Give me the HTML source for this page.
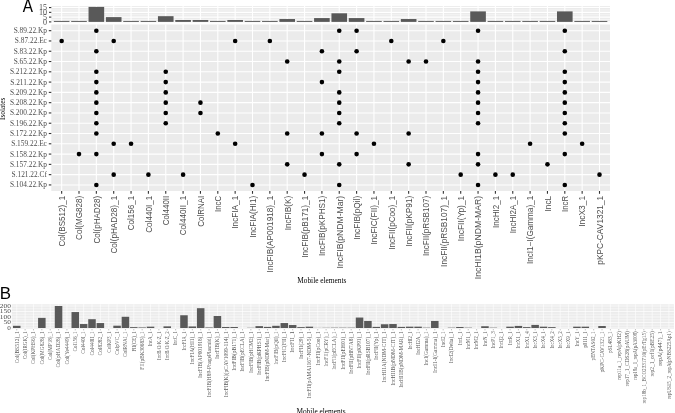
<!DOCTYPE html>
<html><head><meta charset="utf-8"><title>Figure</title>
<style>
html,body{margin:0;padding:0;background:#fff;width:675px;height:413px;overflow:hidden}
svg{display:block;filter:grayscale(1)}
.sr{font-family:"Liberation Serif",serif;font-size:7.35px;fill:#4D4D4D}
.sr8{font-family:"Liberation Serif",serif;font-size:8px;fill:#4D4D4D}
.sa{font-family:"Liberation Sans",sans-serif;font-size:8.3px;fill:#4D4D4D}
.bsr{font-family:"Liberation Serif",serif;font-size:6.8px;fill:#4D4D4D}
.bsl{font-family:"Liberation Serif",serif;font-size:5.5px;fill:#5c5c5c}
.tagA{font-family:"Liberation Sans",sans-serif;font-size:15.3px;fill:#000}
.tagB{font-family:"Liberation Sans",sans-serif;font-size:16.9px;fill:#000}
.tt{font-family:"Liberation Serif",serif;font-size:7.35px;fill:#000}
</style></head><body>
<svg width="675" height="413" viewBox="0 0 675 413" shape-rendering="auto">
<rect x="51.3" y="6.1" width="558.7" height="16.35" fill="#EBEBEB"/>
<line x1="51.3" x2="610" y1="19.51" y2="19.51" stroke="#ffffff" stroke-width="0.45"/>
<line x1="51.3" x2="610" y1="14.74" y2="14.74" stroke="#ffffff" stroke-width="0.45"/>
<line x1="51.3" x2="610" y1="9.96" y2="9.96" stroke="#ffffff" stroke-width="0.45"/>
<line x1="51.3" x2="610" y1="21.9" y2="21.9" stroke="#ffffff" stroke-width="1.1"/>
<line x1="51.3" x2="610" y1="17.12" y2="17.12" stroke="#ffffff" stroke-width="1.1"/>
<line x1="51.3" x2="610" y1="12.35" y2="12.35" stroke="#ffffff" stroke-width="1.1"/>
<line x1="51.3" x2="610" y1="7.57" y2="7.57" stroke="#ffffff" stroke-width="1.1"/>
<line x1="61.65" x2="61.65" y1="6.1" y2="22.45" stroke="#ffffff" stroke-width="1.1"/>
<line x1="79" x2="79" y1="6.1" y2="22.45" stroke="#ffffff" stroke-width="1.1"/>
<line x1="96.35" x2="96.35" y1="6.1" y2="22.45" stroke="#ffffff" stroke-width="1.1"/>
<line x1="113.7" x2="113.7" y1="6.1" y2="22.45" stroke="#ffffff" stroke-width="1.1"/>
<line x1="131.05" x2="131.05" y1="6.1" y2="22.45" stroke="#ffffff" stroke-width="1.1"/>
<line x1="148.4" x2="148.4" y1="6.1" y2="22.45" stroke="#ffffff" stroke-width="1.1"/>
<line x1="165.75" x2="165.75" y1="6.1" y2="22.45" stroke="#ffffff" stroke-width="1.1"/>
<line x1="183.1" x2="183.1" y1="6.1" y2="22.45" stroke="#ffffff" stroke-width="1.1"/>
<line x1="200.45" x2="200.45" y1="6.1" y2="22.45" stroke="#ffffff" stroke-width="1.1"/>
<line x1="217.8" x2="217.8" y1="6.1" y2="22.45" stroke="#ffffff" stroke-width="1.1"/>
<line x1="235.15" x2="235.15" y1="6.1" y2="22.45" stroke="#ffffff" stroke-width="1.1"/>
<line x1="252.5" x2="252.5" y1="6.1" y2="22.45" stroke="#ffffff" stroke-width="1.1"/>
<line x1="269.85" x2="269.85" y1="6.1" y2="22.45" stroke="#ffffff" stroke-width="1.1"/>
<line x1="287.2" x2="287.2" y1="6.1" y2="22.45" stroke="#ffffff" stroke-width="1.1"/>
<line x1="304.55" x2="304.55" y1="6.1" y2="22.45" stroke="#ffffff" stroke-width="1.1"/>
<line x1="321.9" x2="321.9" y1="6.1" y2="22.45" stroke="#ffffff" stroke-width="1.1"/>
<line x1="339.25" x2="339.25" y1="6.1" y2="22.45" stroke="#ffffff" stroke-width="1.1"/>
<line x1="356.6" x2="356.6" y1="6.1" y2="22.45" stroke="#ffffff" stroke-width="1.1"/>
<line x1="373.95" x2="373.95" y1="6.1" y2="22.45" stroke="#ffffff" stroke-width="1.1"/>
<line x1="391.3" x2="391.3" y1="6.1" y2="22.45" stroke="#ffffff" stroke-width="1.1"/>
<line x1="408.65" x2="408.65" y1="6.1" y2="22.45" stroke="#ffffff" stroke-width="1.1"/>
<line x1="426" x2="426" y1="6.1" y2="22.45" stroke="#ffffff" stroke-width="1.1"/>
<line x1="443.35" x2="443.35" y1="6.1" y2="22.45" stroke="#ffffff" stroke-width="1.1"/>
<line x1="460.7" x2="460.7" y1="6.1" y2="22.45" stroke="#ffffff" stroke-width="1.1"/>
<line x1="478.05" x2="478.05" y1="6.1" y2="22.45" stroke="#ffffff" stroke-width="1.1"/>
<line x1="495.4" x2="495.4" y1="6.1" y2="22.45" stroke="#ffffff" stroke-width="1.1"/>
<line x1="512.75" x2="512.75" y1="6.1" y2="22.45" stroke="#ffffff" stroke-width="1.1"/>
<line x1="530.1" x2="530.1" y1="6.1" y2="22.45" stroke="#ffffff" stroke-width="1.1"/>
<line x1="547.45" x2="547.45" y1="6.1" y2="22.45" stroke="#ffffff" stroke-width="1.1"/>
<line x1="564.8" x2="564.8" y1="6.1" y2="22.45" stroke="#ffffff" stroke-width="1.1"/>
<line x1="582.15" x2="582.15" y1="6.1" y2="22.45" stroke="#ffffff" stroke-width="1.1"/>
<line x1="599.5" x2="599.5" y1="6.1" y2="22.45" stroke="#ffffff" stroke-width="1.1"/>
<rect x="53.84" y="20.95" width="15.62" height="0.95" fill="#595959"/>
<rect x="71.19" y="20.95" width="15.62" height="0.95" fill="#595959"/>
<rect x="88.54" y="6.91" width="15.62" height="14.99" fill="#595959"/>
<rect x="105.89" y="17.12" width="15.62" height="4.77" fill="#595959"/>
<rect x="123.24" y="20.95" width="15.62" height="0.95" fill="#595959"/>
<rect x="140.59" y="20.95" width="15.62" height="0.95" fill="#595959"/>
<rect x="157.94" y="16.17" width="15.62" height="5.73" fill="#595959"/>
<rect x="175.29" y="19.99" width="15.62" height="1.91" fill="#595959"/>
<rect x="192.64" y="19.99" width="15.62" height="1.91" fill="#595959"/>
<rect x="209.99" y="20.95" width="15.62" height="0.95" fill="#595959"/>
<rect x="227.34" y="19.99" width="15.62" height="1.91" fill="#595959"/>
<rect x="244.69" y="20.95" width="15.62" height="0.95" fill="#595959"/>
<rect x="262.04" y="20.95" width="15.62" height="0.95" fill="#595959"/>
<rect x="279.39" y="19.04" width="15.62" height="2.86" fill="#595959"/>
<rect x="296.74" y="20.95" width="15.62" height="0.95" fill="#595959"/>
<rect x="314.09" y="18.08" width="15.62" height="3.82" fill="#595959"/>
<rect x="331.44" y="13.3" width="15.62" height="8.59" fill="#595959"/>
<rect x="348.79" y="18.08" width="15.62" height="3.82" fill="#595959"/>
<rect x="366.14" y="20.95" width="15.62" height="0.95" fill="#595959"/>
<rect x="383.49" y="20.95" width="15.62" height="0.95" fill="#595959"/>
<rect x="400.84" y="19.04" width="15.62" height="2.86" fill="#595959"/>
<rect x="418.19" y="20.95" width="15.62" height="0.95" fill="#595959"/>
<rect x="435.54" y="20.95" width="15.62" height="0.95" fill="#595959"/>
<rect x="452.89" y="20.95" width="15.62" height="0.95" fill="#595959"/>
<rect x="470.24" y="11.39" width="15.62" height="10.5" fill="#595959"/>
<rect x="487.59" y="20.95" width="15.62" height="0.95" fill="#595959"/>
<rect x="504.94" y="20.95" width="15.62" height="0.95" fill="#595959"/>
<rect x="522.29" y="20.95" width="15.62" height="0.95" fill="#595959"/>
<rect x="539.64" y="20.95" width="15.62" height="0.95" fill="#595959"/>
<rect x="556.99" y="11.39" width="15.62" height="10.5" fill="#595959"/>
<rect x="574.34" y="20.95" width="15.62" height="0.95" fill="#595959"/>
<rect x="591.69" y="20.95" width="15.62" height="0.95" fill="#595959"/>
<line x1="49" x2="51.3" y1="21.9" y2="21.9" stroke="#333333" stroke-width="1.1"/>
<text x="46.9" y="24.6" class="sr8" text-anchor="end">0</text>
<line x1="49" x2="51.3" y1="17.12" y2="17.12" stroke="#333333" stroke-width="1.1"/>
<text x="46.9" y="19.82" class="sr8" text-anchor="end">5</text>
<line x1="49" x2="51.3" y1="12.35" y2="12.35" stroke="#333333" stroke-width="1.1"/>
<text x="46.9" y="15.05" class="sr8" text-anchor="end">10</text>
<line x1="49" x2="51.3" y1="7.57" y2="7.57" stroke="#333333" stroke-width="1.1"/>
<text x="46.9" y="10.27" class="sr8" text-anchor="end">15</text>
<rect x="51.3" y="24.5" width="558.7" height="166.5" fill="#EBEBEB"/>
<line x1="51.3" x2="610" y1="30.68" y2="30.68" stroke="#ffffff" stroke-width="1.1"/>
<line x1="51.3" x2="610" y1="40.96" y2="40.96" stroke="#ffffff" stroke-width="1.1"/>
<line x1="51.3" x2="610" y1="51.25" y2="51.25" stroke="#ffffff" stroke-width="1.1"/>
<line x1="51.3" x2="610" y1="61.53" y2="61.53" stroke="#ffffff" stroke-width="1.1"/>
<line x1="51.3" x2="610" y1="71.81" y2="71.81" stroke="#ffffff" stroke-width="1.1"/>
<line x1="51.3" x2="610" y1="82.09" y2="82.09" stroke="#ffffff" stroke-width="1.1"/>
<line x1="51.3" x2="610" y1="92.38" y2="92.38" stroke="#ffffff" stroke-width="1.1"/>
<line x1="51.3" x2="610" y1="102.66" y2="102.66" stroke="#ffffff" stroke-width="1.1"/>
<line x1="51.3" x2="610" y1="112.94" y2="112.94" stroke="#ffffff" stroke-width="1.1"/>
<line x1="51.3" x2="610" y1="123.23" y2="123.23" stroke="#ffffff" stroke-width="1.1"/>
<line x1="51.3" x2="610" y1="133.51" y2="133.51" stroke="#ffffff" stroke-width="1.1"/>
<line x1="51.3" x2="610" y1="143.79" y2="143.79" stroke="#ffffff" stroke-width="1.1"/>
<line x1="51.3" x2="610" y1="154.08" y2="154.08" stroke="#ffffff" stroke-width="1.1"/>
<line x1="51.3" x2="610" y1="164.36" y2="164.36" stroke="#ffffff" stroke-width="1.1"/>
<line x1="51.3" x2="610" y1="174.64" y2="174.64" stroke="#ffffff" stroke-width="1.1"/>
<line x1="51.3" x2="610" y1="184.93" y2="184.93" stroke="#ffffff" stroke-width="1.1"/>
<line x1="61.65" x2="61.65" y1="24.5" y2="191" stroke="#ffffff" stroke-width="1.1"/>
<line x1="79" x2="79" y1="24.5" y2="191" stroke="#ffffff" stroke-width="1.1"/>
<line x1="96.35" x2="96.35" y1="24.5" y2="191" stroke="#ffffff" stroke-width="1.1"/>
<line x1="113.7" x2="113.7" y1="24.5" y2="191" stroke="#ffffff" stroke-width="1.1"/>
<line x1="131.05" x2="131.05" y1="24.5" y2="191" stroke="#ffffff" stroke-width="1.1"/>
<line x1="148.4" x2="148.4" y1="24.5" y2="191" stroke="#ffffff" stroke-width="1.1"/>
<line x1="165.75" x2="165.75" y1="24.5" y2="191" stroke="#ffffff" stroke-width="1.1"/>
<line x1="183.1" x2="183.1" y1="24.5" y2="191" stroke="#ffffff" stroke-width="1.1"/>
<line x1="200.45" x2="200.45" y1="24.5" y2="191" stroke="#ffffff" stroke-width="1.1"/>
<line x1="217.8" x2="217.8" y1="24.5" y2="191" stroke="#ffffff" stroke-width="1.1"/>
<line x1="235.15" x2="235.15" y1="24.5" y2="191" stroke="#ffffff" stroke-width="1.1"/>
<line x1="252.5" x2="252.5" y1="24.5" y2="191" stroke="#ffffff" stroke-width="1.1"/>
<line x1="269.85" x2="269.85" y1="24.5" y2="191" stroke="#ffffff" stroke-width="1.1"/>
<line x1="287.2" x2="287.2" y1="24.5" y2="191" stroke="#ffffff" stroke-width="1.1"/>
<line x1="304.55" x2="304.55" y1="24.5" y2="191" stroke="#ffffff" stroke-width="1.1"/>
<line x1="321.9" x2="321.9" y1="24.5" y2="191" stroke="#ffffff" stroke-width="1.1"/>
<line x1="339.25" x2="339.25" y1="24.5" y2="191" stroke="#ffffff" stroke-width="1.1"/>
<line x1="356.6" x2="356.6" y1="24.5" y2="191" stroke="#ffffff" stroke-width="1.1"/>
<line x1="373.95" x2="373.95" y1="24.5" y2="191" stroke="#ffffff" stroke-width="1.1"/>
<line x1="391.3" x2="391.3" y1="24.5" y2="191" stroke="#ffffff" stroke-width="1.1"/>
<line x1="408.65" x2="408.65" y1="24.5" y2="191" stroke="#ffffff" stroke-width="1.1"/>
<line x1="426" x2="426" y1="24.5" y2="191" stroke="#ffffff" stroke-width="1.1"/>
<line x1="443.35" x2="443.35" y1="24.5" y2="191" stroke="#ffffff" stroke-width="1.1"/>
<line x1="460.7" x2="460.7" y1="24.5" y2="191" stroke="#ffffff" stroke-width="1.1"/>
<line x1="478.05" x2="478.05" y1="24.5" y2="191" stroke="#ffffff" stroke-width="1.1"/>
<line x1="495.4" x2="495.4" y1="24.5" y2="191" stroke="#ffffff" stroke-width="1.1"/>
<line x1="512.75" x2="512.75" y1="24.5" y2="191" stroke="#ffffff" stroke-width="1.1"/>
<line x1="530.1" x2="530.1" y1="24.5" y2="191" stroke="#ffffff" stroke-width="1.1"/>
<line x1="547.45" x2="547.45" y1="24.5" y2="191" stroke="#ffffff" stroke-width="1.1"/>
<line x1="564.8" x2="564.8" y1="24.5" y2="191" stroke="#ffffff" stroke-width="1.1"/>
<line x1="582.15" x2="582.15" y1="24.5" y2="191" stroke="#ffffff" stroke-width="1.1"/>
<line x1="599.5" x2="599.5" y1="24.5" y2="191" stroke="#ffffff" stroke-width="1.1"/>
<circle cx="96.35" cy="30.68" r="2.3" fill="#000"/>
<circle cx="339.25" cy="30.68" r="2.3" fill="#000"/>
<circle cx="356.6" cy="30.68" r="2.3" fill="#000"/>
<circle cx="478.05" cy="30.68" r="2.3" fill="#000"/>
<circle cx="564.8" cy="30.68" r="2.3" fill="#000"/>
<circle cx="61.65" cy="40.96" r="2.3" fill="#000"/>
<circle cx="113.7" cy="40.96" r="2.3" fill="#000"/>
<circle cx="235.15" cy="40.96" r="2.3" fill="#000"/>
<circle cx="269.85" cy="40.96" r="2.3" fill="#000"/>
<circle cx="391.3" cy="40.96" r="2.3" fill="#000"/>
<circle cx="443.35" cy="40.96" r="2.3" fill="#000"/>
<circle cx="96.35" cy="51.25" r="2.3" fill="#000"/>
<circle cx="321.9" cy="51.25" r="2.3" fill="#000"/>
<circle cx="356.6" cy="51.25" r="2.3" fill="#000"/>
<circle cx="564.8" cy="51.25" r="2.3" fill="#000"/>
<circle cx="287.2" cy="61.53" r="2.3" fill="#000"/>
<circle cx="339.25" cy="61.53" r="2.3" fill="#000"/>
<circle cx="408.65" cy="61.53" r="2.3" fill="#000"/>
<circle cx="426" cy="61.53" r="2.3" fill="#000"/>
<circle cx="478.05" cy="61.53" r="2.3" fill="#000"/>
<circle cx="96.35" cy="71.81" r="2.3" fill="#000"/>
<circle cx="165.75" cy="71.81" r="2.3" fill="#000"/>
<circle cx="339.25" cy="71.81" r="2.3" fill="#000"/>
<circle cx="478.05" cy="71.81" r="2.3" fill="#000"/>
<circle cx="564.8" cy="71.81" r="2.3" fill="#000"/>
<circle cx="96.35" cy="82.09" r="2.3" fill="#000"/>
<circle cx="165.75" cy="82.09" r="2.3" fill="#000"/>
<circle cx="321.9" cy="82.09" r="2.3" fill="#000"/>
<circle cx="478.05" cy="82.09" r="2.3" fill="#000"/>
<circle cx="564.8" cy="82.09" r="2.3" fill="#000"/>
<circle cx="96.35" cy="92.38" r="2.3" fill="#000"/>
<circle cx="165.75" cy="92.38" r="2.3" fill="#000"/>
<circle cx="339.25" cy="92.38" r="2.3" fill="#000"/>
<circle cx="478.05" cy="92.38" r="2.3" fill="#000"/>
<circle cx="564.8" cy="92.38" r="2.3" fill="#000"/>
<circle cx="96.35" cy="102.66" r="2.3" fill="#000"/>
<circle cx="165.75" cy="102.66" r="2.3" fill="#000"/>
<circle cx="200.45" cy="102.66" r="2.3" fill="#000"/>
<circle cx="339.25" cy="102.66" r="2.3" fill="#000"/>
<circle cx="478.05" cy="102.66" r="2.3" fill="#000"/>
<circle cx="564.8" cy="102.66" r="2.3" fill="#000"/>
<circle cx="96.35" cy="112.94" r="2.3" fill="#000"/>
<circle cx="165.75" cy="112.94" r="2.3" fill="#000"/>
<circle cx="200.45" cy="112.94" r="2.3" fill="#000"/>
<circle cx="339.25" cy="112.94" r="2.3" fill="#000"/>
<circle cx="478.05" cy="112.94" r="2.3" fill="#000"/>
<circle cx="564.8" cy="112.94" r="2.3" fill="#000"/>
<circle cx="96.35" cy="123.23" r="2.3" fill="#000"/>
<circle cx="165.75" cy="123.23" r="2.3" fill="#000"/>
<circle cx="339.25" cy="123.23" r="2.3" fill="#000"/>
<circle cx="478.05" cy="123.23" r="2.3" fill="#000"/>
<circle cx="564.8" cy="123.23" r="2.3" fill="#000"/>
<circle cx="96.35" cy="133.51" r="2.3" fill="#000"/>
<circle cx="217.8" cy="133.51" r="2.3" fill="#000"/>
<circle cx="287.2" cy="133.51" r="2.3" fill="#000"/>
<circle cx="321.9" cy="133.51" r="2.3" fill="#000"/>
<circle cx="356.6" cy="133.51" r="2.3" fill="#000"/>
<circle cx="408.65" cy="133.51" r="2.3" fill="#000"/>
<circle cx="564.8" cy="133.51" r="2.3" fill="#000"/>
<circle cx="113.7" cy="143.79" r="2.3" fill="#000"/>
<circle cx="131.05" cy="143.79" r="2.3" fill="#000"/>
<circle cx="235.15" cy="143.79" r="2.3" fill="#000"/>
<circle cx="373.95" cy="143.79" r="2.3" fill="#000"/>
<circle cx="530.1" cy="143.79" r="2.3" fill="#000"/>
<circle cx="582.15" cy="143.79" r="2.3" fill="#000"/>
<circle cx="79" cy="154.08" r="2.3" fill="#000"/>
<circle cx="96.35" cy="154.08" r="2.3" fill="#000"/>
<circle cx="321.9" cy="154.08" r="2.3" fill="#000"/>
<circle cx="356.6" cy="154.08" r="2.3" fill="#000"/>
<circle cx="478.05" cy="154.08" r="2.3" fill="#000"/>
<circle cx="564.8" cy="154.08" r="2.3" fill="#000"/>
<circle cx="287.2" cy="164.36" r="2.3" fill="#000"/>
<circle cx="339.25" cy="164.36" r="2.3" fill="#000"/>
<circle cx="408.65" cy="164.36" r="2.3" fill="#000"/>
<circle cx="478.05" cy="164.36" r="2.3" fill="#000"/>
<circle cx="547.45" cy="164.36" r="2.3" fill="#000"/>
<circle cx="113.7" cy="174.64" r="2.3" fill="#000"/>
<circle cx="148.4" cy="174.64" r="2.3" fill="#000"/>
<circle cx="183.1" cy="174.64" r="2.3" fill="#000"/>
<circle cx="304.55" cy="174.64" r="2.3" fill="#000"/>
<circle cx="460.7" cy="174.64" r="2.3" fill="#000"/>
<circle cx="495.4" cy="174.64" r="2.3" fill="#000"/>
<circle cx="512.75" cy="174.64" r="2.3" fill="#000"/>
<circle cx="599.5" cy="174.64" r="2.3" fill="#000"/>
<circle cx="96.35" cy="184.93" r="2.3" fill="#000"/>
<circle cx="252.5" cy="184.93" r="2.3" fill="#000"/>
<circle cx="339.25" cy="184.93" r="2.3" fill="#000"/>
<circle cx="478.05" cy="184.93" r="2.3" fill="#000"/>
<circle cx="564.8" cy="184.93" r="2.3" fill="#000"/>
<line x1="48.8" x2="51.3" y1="30.68" y2="30.68" stroke="#333333" stroke-width="1.1"/>
<text x="46.9" y="33.18" class="sr" text-anchor="end">S.89.22.Kp</text>
<line x1="48.8" x2="51.3" y1="40.96" y2="40.96" stroke="#333333" stroke-width="1.1"/>
<text x="46.9" y="43.46" class="sr" text-anchor="end">S.87.22.Ec</text>
<line x1="48.8" x2="51.3" y1="51.25" y2="51.25" stroke="#333333" stroke-width="1.1"/>
<text x="46.9" y="53.75" class="sr" text-anchor="end">S.83.22.Kp</text>
<line x1="48.8" x2="51.3" y1="61.53" y2="61.53" stroke="#333333" stroke-width="1.1"/>
<text x="46.9" y="64.03" class="sr" text-anchor="end">S.65.22.Kp</text>
<line x1="48.8" x2="51.3" y1="71.81" y2="71.81" stroke="#333333" stroke-width="1.1"/>
<text x="46.9" y="74.31" class="sr" text-anchor="end">S.212.22.Kp</text>
<line x1="48.8" x2="51.3" y1="82.09" y2="82.09" stroke="#333333" stroke-width="1.1"/>
<text x="46.9" y="84.59" class="sr" text-anchor="end">S.211.22.Kp</text>
<line x1="48.8" x2="51.3" y1="92.38" y2="92.38" stroke="#333333" stroke-width="1.1"/>
<text x="46.9" y="94.88" class="sr" text-anchor="end">S.209.22.Kp</text>
<line x1="48.8" x2="51.3" y1="102.66" y2="102.66" stroke="#333333" stroke-width="1.1"/>
<text x="46.9" y="105.16" class="sr" text-anchor="end">S.208.22.Kp</text>
<line x1="48.8" x2="51.3" y1="112.94" y2="112.94" stroke="#333333" stroke-width="1.1"/>
<text x="46.9" y="115.44" class="sr" text-anchor="end">S.200.22.Kp</text>
<line x1="48.8" x2="51.3" y1="123.23" y2="123.23" stroke="#333333" stroke-width="1.1"/>
<text x="46.9" y="125.73" class="sr" text-anchor="end">S.196.22.Kp</text>
<line x1="48.8" x2="51.3" y1="133.51" y2="133.51" stroke="#333333" stroke-width="1.1"/>
<text x="46.9" y="136.01" class="sr" text-anchor="end">S.172.22.Kp</text>
<line x1="48.8" x2="51.3" y1="143.79" y2="143.79" stroke="#333333" stroke-width="1.1"/>
<text x="46.9" y="146.29" class="sr" text-anchor="end">S.159.22.Ec</text>
<line x1="48.8" x2="51.3" y1="154.08" y2="154.08" stroke="#333333" stroke-width="1.1"/>
<text x="46.9" y="156.58" class="sr" text-anchor="end">S.158.22.Kp</text>
<line x1="48.8" x2="51.3" y1="164.36" y2="164.36" stroke="#333333" stroke-width="1.1"/>
<text x="46.9" y="166.86" class="sr" text-anchor="end">S.157.22.Kp</text>
<line x1="48.8" x2="51.3" y1="174.64" y2="174.64" stroke="#333333" stroke-width="1.1"/>
<text x="46.9" y="177.14" class="sr" text-anchor="end">S.121.22.Cf</text>
<line x1="48.8" x2="51.3" y1="184.93" y2="184.93" stroke="#333333" stroke-width="1.1"/>
<text x="46.9" y="187.43" class="sr" text-anchor="end">S.104.22.Kp</text>
<line x1="61.65" x2="61.65" y1="191" y2="193.8" stroke="#333333" stroke-width="1.1"/>
<text transform="translate(64.95,195.8) rotate(-90)" class="sa" text-anchor="end" textLength="50.67" lengthAdjust="spacingAndGlyphs">Col(BS512)_1</text>
<line x1="79" x2="79" y1="191" y2="193.8" stroke="#333333" stroke-width="1.1"/>
<text transform="translate(82.3,195.8) rotate(-90)" class="sa" text-anchor="end" textLength="44.11" lengthAdjust="spacingAndGlyphs">Col(MG828)</text>
<line x1="96.35" x2="96.35" y1="191" y2="193.8" stroke="#333333" stroke-width="1.1"/>
<text transform="translate(99.65,195.8) rotate(-90)" class="sa" text-anchor="end" textLength="47.63" lengthAdjust="spacingAndGlyphs">Col(pHAD28)</text>
<line x1="113.7" x2="113.7" y1="191" y2="193.8" stroke="#333333" stroke-width="1.1"/>
<text transform="translate(117,195.8) rotate(-90)" class="sa" text-anchor="end" textLength="57.82" lengthAdjust="spacingAndGlyphs">Col(pHAD28)_1</text>
<line x1="131.05" x2="131.05" y1="191" y2="193.8" stroke="#333333" stroke-width="1.1"/>
<text transform="translate(134.35,195.8) rotate(-90)" class="sa" text-anchor="end" textLength="34.47" lengthAdjust="spacingAndGlyphs">Col156_1</text>
<line x1="148.4" x2="148.4" y1="191" y2="193.8" stroke="#333333" stroke-width="1.1"/>
<text transform="translate(151.7,195.8) rotate(-90)" class="sa" text-anchor="end" textLength="37" lengthAdjust="spacingAndGlyphs">Col440I_1</text>
<line x1="165.75" x2="165.75" y1="191" y2="193.8" stroke="#333333" stroke-width="1.1"/>
<text transform="translate(169.05,195.8) rotate(-90)" class="sa" text-anchor="end" textLength="29.54" lengthAdjust="spacingAndGlyphs">Col440II</text>
<line x1="183.1" x2="183.1" y1="191" y2="193.8" stroke="#333333" stroke-width="1.1"/>
<text transform="translate(186.4,195.8) rotate(-90)" class="sa" text-anchor="end" textLength="39.54" lengthAdjust="spacingAndGlyphs">Col440II_1</text>
<line x1="200.45" x2="200.45" y1="191" y2="193.8" stroke="#333333" stroke-width="1.1"/>
<text transform="translate(203.75,195.8) rotate(-90)" class="sa" text-anchor="end" textLength="30.88" lengthAdjust="spacingAndGlyphs">ColRNAI</text>
<line x1="217.8" x2="217.8" y1="191" y2="193.8" stroke="#333333" stroke-width="1.1"/>
<text transform="translate(221.1,195.8) rotate(-90)" class="sa" text-anchor="end" textLength="16.15" lengthAdjust="spacingAndGlyphs">IncC</text>
<line x1="235.15" x2="235.15" y1="191" y2="193.8" stroke="#333333" stroke-width="1.1"/>
<text transform="translate(238.45,195.8) rotate(-90)" class="sa" text-anchor="end" textLength="32.89" lengthAdjust="spacingAndGlyphs">IncFIA_1</text>
<line x1="252.5" x2="252.5" y1="191" y2="193.8" stroke="#333333" stroke-width="1.1"/>
<text transform="translate(255.8,195.8) rotate(-90)" class="sa" text-anchor="end" textLength="41.96" lengthAdjust="spacingAndGlyphs">IncFIA(HI1)</text>
<line x1="269.85" x2="269.85" y1="191" y2="193.8" stroke="#333333" stroke-width="1.1"/>
<text transform="translate(273.15,195.8) rotate(-90)" class="sa" text-anchor="end" textLength="76.58" lengthAdjust="spacingAndGlyphs">IncFIB(AP001918)_1</text>
<line x1="287.2" x2="287.2" y1="191" y2="193.8" stroke="#333333" stroke-width="1.1"/>
<text transform="translate(290.5,195.8) rotate(-90)" class="sa" text-anchor="end" textLength="34.56" lengthAdjust="spacingAndGlyphs">IncFIB(K)</text>
<line x1="304.55" x2="304.55" y1="191" y2="193.8" stroke="#333333" stroke-width="1.1"/>
<text transform="translate(307.85,195.8) rotate(-90)" class="sa" text-anchor="end" textLength="61.95" lengthAdjust="spacingAndGlyphs">IncFIB(pB171)_1</text>
<line x1="321.9" x2="321.9" y1="191" y2="193.8" stroke="#333333" stroke-width="1.1"/>
<text transform="translate(325.2,195.8) rotate(-90)" class="sa" text-anchor="end" textLength="60.24" lengthAdjust="spacingAndGlyphs">IncFIB(pKPHS1)</text>
<line x1="339.25" x2="339.25" y1="191" y2="193.8" stroke="#333333" stroke-width="1.1"/>
<text transform="translate(342.55,195.8) rotate(-90)" class="sa" text-anchor="end" textLength="72.68" lengthAdjust="spacingAndGlyphs">IncFIB(pNDM-Mar)</text>
<line x1="356.6" x2="356.6" y1="191" y2="193.8" stroke="#333333" stroke-width="1.1"/>
<text transform="translate(359.9,195.8) rotate(-90)" class="sa" text-anchor="end" textLength="44.05" lengthAdjust="spacingAndGlyphs">IncFIB(pQil)</text>
<line x1="373.95" x2="373.95" y1="191" y2="193.8" stroke="#333333" stroke-width="1.1"/>
<text transform="translate(377.25,195.8) rotate(-90)" class="sa" text-anchor="end" textLength="48.75" lengthAdjust="spacingAndGlyphs">IncFIC(FII)_1</text>
<line x1="391.3" x2="391.3" y1="191" y2="193.8" stroke="#333333" stroke-width="1.1"/>
<text transform="translate(394.6,195.8) rotate(-90)" class="sa" text-anchor="end" textLength="53.89" lengthAdjust="spacingAndGlyphs">IncFII(pCoo)_1</text>
<line x1="408.65" x2="408.65" y1="191" y2="193.8" stroke="#333333" stroke-width="1.1"/>
<text transform="translate(411.95,195.8) rotate(-90)" class="sa" text-anchor="end" textLength="50.69" lengthAdjust="spacingAndGlyphs">IncFII(pKP91)</text>
<line x1="426" x2="426" y1="191" y2="193.8" stroke="#333333" stroke-width="1.1"/>
<text transform="translate(429.3,195.8) rotate(-90)" class="sa" text-anchor="end" textLength="60.29" lengthAdjust="spacingAndGlyphs">IncFII(pRSB107)</text>
<line x1="443.35" x2="443.35" y1="191" y2="193.8" stroke="#333333" stroke-width="1.1"/>
<text transform="translate(446.65,195.8) rotate(-90)" class="sa" text-anchor="end" textLength="71.1" lengthAdjust="spacingAndGlyphs">IncFII(pRSB107)_1</text>
<line x1="460.7" x2="460.7" y1="191" y2="193.8" stroke="#333333" stroke-width="1.1"/>
<text transform="translate(464,195.8) rotate(-90)" class="sa" text-anchor="end" textLength="45.35" lengthAdjust="spacingAndGlyphs">IncFII(Yp)_1</text>
<line x1="478.05" x2="478.05" y1="191" y2="193.8" stroke="#333333" stroke-width="1.1"/>
<text transform="translate(481.35,195.8) rotate(-90)" class="sa" text-anchor="end" textLength="83.4" lengthAdjust="spacingAndGlyphs">IncHI1B(pNDM-MAR)</text>
<line x1="495.4" x2="495.4" y1="191" y2="193.8" stroke="#333333" stroke-width="1.1"/>
<text transform="translate(498.7,195.8) rotate(-90)" class="sa" text-anchor="end" textLength="32.28" lengthAdjust="spacingAndGlyphs">IncHI2_1</text>
<line x1="512.75" x2="512.75" y1="191" y2="193.8" stroke="#333333" stroke-width="1.1"/>
<text transform="translate(516.05,195.8) rotate(-90)" class="sa" text-anchor="end" textLength="37.53" lengthAdjust="spacingAndGlyphs">IncHI2A_1</text>
<line x1="530.1" x2="530.1" y1="191" y2="193.8" stroke="#333333" stroke-width="1.1"/>
<text transform="translate(533.4,195.8) rotate(-90)" class="sa" text-anchor="end" textLength="68.25" lengthAdjust="spacingAndGlyphs">IncI1−I(Gamma)_1</text>
<line x1="547.45" x2="547.45" y1="191" y2="193.8" stroke="#333333" stroke-width="1.1"/>
<text transform="translate(550.75,195.8) rotate(-90)" class="sa" text-anchor="end" textLength="15.65" lengthAdjust="spacingAndGlyphs">IncL</text>
<line x1="564.8" x2="564.8" y1="191" y2="193.8" stroke="#333333" stroke-width="1.1"/>
<text transform="translate(568.1,195.8) rotate(-90)" class="sa" text-anchor="end" textLength="16.15" lengthAdjust="spacingAndGlyphs">IncR</text>
<line x1="582.15" x2="582.15" y1="191" y2="193.8" stroke="#333333" stroke-width="1.1"/>
<text transform="translate(585.45,195.8) rotate(-90)" class="sa" text-anchor="end" textLength="31" lengthAdjust="spacingAndGlyphs">IncX3_1</text>
<line x1="599.5" x2="599.5" y1="191" y2="193.8" stroke="#333333" stroke-width="1.1"/>
<text transform="translate(602.8,195.8) rotate(-90)" class="sa" text-anchor="end" textLength="68.92" lengthAdjust="spacingAndGlyphs">pKPC-CAV1321_1</text>
<text x="321.8" y="283.4" class="tt" text-anchor="middle">Mobile elements</text>
<text transform="translate(5.3,108.8) rotate(-90)" class="tt" text-anchor="middle">Isolates</text>
<text transform="translate(22.7,11.9) scale(1,1.18)" class="tagA">A</text>
<rect x="11.73" y="304.3" width="662.17" height="24.7" fill="#ECECEC"/>
<line x1="11.73" x2="673.9" y1="325.25" y2="325.25" stroke="#ffffff" stroke-width="0.45"/>
<line x1="11.73" x2="673.9" y1="319.75" y2="319.75" stroke="#ffffff" stroke-width="0.45"/>
<line x1="11.73" x2="673.9" y1="314.25" y2="314.25" stroke="#ffffff" stroke-width="0.45"/>
<line x1="11.73" x2="673.9" y1="308.75" y2="308.75" stroke="#ffffff" stroke-width="0.45"/>
<line x1="11.73" x2="673.9" y1="328" y2="328" stroke="#ffffff" stroke-width="0.7"/>
<line x1="11.73" x2="673.9" y1="322.5" y2="322.5" stroke="#ffffff" stroke-width="0.7"/>
<line x1="11.73" x2="673.9" y1="317" y2="317" stroke="#ffffff" stroke-width="0.7"/>
<line x1="11.73" x2="673.9" y1="311.5" y2="311.5" stroke="#ffffff" stroke-width="0.7"/>
<line x1="11.73" x2="673.9" y1="306" y2="306" stroke="#ffffff" stroke-width="0.7"/>
<line x1="16.75" x2="16.75" y1="304.3" y2="329" stroke="#ffffff" stroke-width="0.6"/>
<line x1="25.11" x2="25.11" y1="304.3" y2="329" stroke="#ffffff" stroke-width="0.6"/>
<line x1="33.47" x2="33.47" y1="304.3" y2="329" stroke="#ffffff" stroke-width="0.6"/>
<line x1="41.83" x2="41.83" y1="304.3" y2="329" stroke="#ffffff" stroke-width="0.6"/>
<line x1="50.19" x2="50.19" y1="304.3" y2="329" stroke="#ffffff" stroke-width="0.6"/>
<line x1="58.56" x2="58.56" y1="304.3" y2="329" stroke="#ffffff" stroke-width="0.6"/>
<line x1="66.92" x2="66.92" y1="304.3" y2="329" stroke="#ffffff" stroke-width="0.6"/>
<line x1="75.28" x2="75.28" y1="304.3" y2="329" stroke="#ffffff" stroke-width="0.6"/>
<line x1="83.64" x2="83.64" y1="304.3" y2="329" stroke="#ffffff" stroke-width="0.6"/>
<line x1="92" x2="92" y1="304.3" y2="329" stroke="#ffffff" stroke-width="0.6"/>
<line x1="100.36" x2="100.36" y1="304.3" y2="329" stroke="#ffffff" stroke-width="0.6"/>
<line x1="108.72" x2="108.72" y1="304.3" y2="329" stroke="#ffffff" stroke-width="0.6"/>
<line x1="117.08" x2="117.08" y1="304.3" y2="329" stroke="#ffffff" stroke-width="0.6"/>
<line x1="125.44" x2="125.44" y1="304.3" y2="329" stroke="#ffffff" stroke-width="0.6"/>
<line x1="133.8" x2="133.8" y1="304.3" y2="329" stroke="#ffffff" stroke-width="0.6"/>
<line x1="142.17" x2="142.17" y1="304.3" y2="329" stroke="#ffffff" stroke-width="0.6"/>
<line x1="150.53" x2="150.53" y1="304.3" y2="329" stroke="#ffffff" stroke-width="0.6"/>
<line x1="158.89" x2="158.89" y1="304.3" y2="329" stroke="#ffffff" stroke-width="0.6"/>
<line x1="167.25" x2="167.25" y1="304.3" y2="329" stroke="#ffffff" stroke-width="0.6"/>
<line x1="175.61" x2="175.61" y1="304.3" y2="329" stroke="#ffffff" stroke-width="0.6"/>
<line x1="183.97" x2="183.97" y1="304.3" y2="329" stroke="#ffffff" stroke-width="0.6"/>
<line x1="192.33" x2="192.33" y1="304.3" y2="329" stroke="#ffffff" stroke-width="0.6"/>
<line x1="200.69" x2="200.69" y1="304.3" y2="329" stroke="#ffffff" stroke-width="0.6"/>
<line x1="209.05" x2="209.05" y1="304.3" y2="329" stroke="#ffffff" stroke-width="0.6"/>
<line x1="217.41" x2="217.41" y1="304.3" y2="329" stroke="#ffffff" stroke-width="0.6"/>
<line x1="225.78" x2="225.78" y1="304.3" y2="329" stroke="#ffffff" stroke-width="0.6"/>
<line x1="234.14" x2="234.14" y1="304.3" y2="329" stroke="#ffffff" stroke-width="0.6"/>
<line x1="242.5" x2="242.5" y1="304.3" y2="329" stroke="#ffffff" stroke-width="0.6"/>
<line x1="250.86" x2="250.86" y1="304.3" y2="329" stroke="#ffffff" stroke-width="0.6"/>
<line x1="259.22" x2="259.22" y1="304.3" y2="329" stroke="#ffffff" stroke-width="0.6"/>
<line x1="267.58" x2="267.58" y1="304.3" y2="329" stroke="#ffffff" stroke-width="0.6"/>
<line x1="275.94" x2="275.94" y1="304.3" y2="329" stroke="#ffffff" stroke-width="0.6"/>
<line x1="284.3" x2="284.3" y1="304.3" y2="329" stroke="#ffffff" stroke-width="0.6"/>
<line x1="292.66" x2="292.66" y1="304.3" y2="329" stroke="#ffffff" stroke-width="0.6"/>
<line x1="301.02" x2="301.02" y1="304.3" y2="329" stroke="#ffffff" stroke-width="0.6"/>
<line x1="309.39" x2="309.39" y1="304.3" y2="329" stroke="#ffffff" stroke-width="0.6"/>
<line x1="317.75" x2="317.75" y1="304.3" y2="329" stroke="#ffffff" stroke-width="0.6"/>
<line x1="326.11" x2="326.11" y1="304.3" y2="329" stroke="#ffffff" stroke-width="0.6"/>
<line x1="334.47" x2="334.47" y1="304.3" y2="329" stroke="#ffffff" stroke-width="0.6"/>
<line x1="342.83" x2="342.83" y1="304.3" y2="329" stroke="#ffffff" stroke-width="0.6"/>
<line x1="351.19" x2="351.19" y1="304.3" y2="329" stroke="#ffffff" stroke-width="0.6"/>
<line x1="359.55" x2="359.55" y1="304.3" y2="329" stroke="#ffffff" stroke-width="0.6"/>
<line x1="367.91" x2="367.91" y1="304.3" y2="329" stroke="#ffffff" stroke-width="0.6"/>
<line x1="376.27" x2="376.27" y1="304.3" y2="329" stroke="#ffffff" stroke-width="0.6"/>
<line x1="384.63" x2="384.63" y1="304.3" y2="329" stroke="#ffffff" stroke-width="0.6"/>
<line x1="393" x2="393" y1="304.3" y2="329" stroke="#ffffff" stroke-width="0.6"/>
<line x1="401.36" x2="401.36" y1="304.3" y2="329" stroke="#ffffff" stroke-width="0.6"/>
<line x1="409.72" x2="409.72" y1="304.3" y2="329" stroke="#ffffff" stroke-width="0.6"/>
<line x1="418.08" x2="418.08" y1="304.3" y2="329" stroke="#ffffff" stroke-width="0.6"/>
<line x1="426.44" x2="426.44" y1="304.3" y2="329" stroke="#ffffff" stroke-width="0.6"/>
<line x1="434.8" x2="434.8" y1="304.3" y2="329" stroke="#ffffff" stroke-width="0.6"/>
<line x1="443.16" x2="443.16" y1="304.3" y2="329" stroke="#ffffff" stroke-width="0.6"/>
<line x1="451.52" x2="451.52" y1="304.3" y2="329" stroke="#ffffff" stroke-width="0.6"/>
<line x1="459.88" x2="459.88" y1="304.3" y2="329" stroke="#ffffff" stroke-width="0.6"/>
<line x1="468.24" x2="468.24" y1="304.3" y2="329" stroke="#ffffff" stroke-width="0.6"/>
<line x1="476.61" x2="476.61" y1="304.3" y2="329" stroke="#ffffff" stroke-width="0.6"/>
<line x1="484.97" x2="484.97" y1="304.3" y2="329" stroke="#ffffff" stroke-width="0.6"/>
<line x1="493.33" x2="493.33" y1="304.3" y2="329" stroke="#ffffff" stroke-width="0.6"/>
<line x1="501.69" x2="501.69" y1="304.3" y2="329" stroke="#ffffff" stroke-width="0.6"/>
<line x1="510.05" x2="510.05" y1="304.3" y2="329" stroke="#ffffff" stroke-width="0.6"/>
<line x1="518.41" x2="518.41" y1="304.3" y2="329" stroke="#ffffff" stroke-width="0.6"/>
<line x1="526.77" x2="526.77" y1="304.3" y2="329" stroke="#ffffff" stroke-width="0.6"/>
<line x1="535.13" x2="535.13" y1="304.3" y2="329" stroke="#ffffff" stroke-width="0.6"/>
<line x1="543.49" x2="543.49" y1="304.3" y2="329" stroke="#ffffff" stroke-width="0.6"/>
<line x1="551.85" x2="551.85" y1="304.3" y2="329" stroke="#ffffff" stroke-width="0.6"/>
<line x1="560.22" x2="560.22" y1="304.3" y2="329" stroke="#ffffff" stroke-width="0.6"/>
<line x1="568.58" x2="568.58" y1="304.3" y2="329" stroke="#ffffff" stroke-width="0.6"/>
<line x1="576.94" x2="576.94" y1="304.3" y2="329" stroke="#ffffff" stroke-width="0.6"/>
<line x1="585.3" x2="585.3" y1="304.3" y2="329" stroke="#ffffff" stroke-width="0.6"/>
<line x1="593.66" x2="593.66" y1="304.3" y2="329" stroke="#ffffff" stroke-width="0.6"/>
<line x1="602.02" x2="602.02" y1="304.3" y2="329" stroke="#ffffff" stroke-width="0.6"/>
<line x1="610.38" x2="610.38" y1="304.3" y2="329" stroke="#ffffff" stroke-width="0.6"/>
<line x1="618.74" x2="618.74" y1="304.3" y2="329" stroke="#ffffff" stroke-width="0.6"/>
<line x1="627.1" x2="627.1" y1="304.3" y2="329" stroke="#ffffff" stroke-width="0.6"/>
<line x1="635.46" x2="635.46" y1="304.3" y2="329" stroke="#ffffff" stroke-width="0.6"/>
<line x1="643.83" x2="643.83" y1="304.3" y2="329" stroke="#ffffff" stroke-width="0.6"/>
<line x1="652.19" x2="652.19" y1="304.3" y2="329" stroke="#ffffff" stroke-width="0.6"/>
<line x1="660.55" x2="660.55" y1="304.3" y2="329" stroke="#ffffff" stroke-width="0.6"/>
<line x1="668.91" x2="668.91" y1="304.3" y2="329" stroke="#ffffff" stroke-width="0.6"/>
<rect x="12.99" y="325.8" width="7.52" height="2.2" fill="#595959"/>
<rect x="38.07" y="317.88" width="7.52" height="10.12" fill="#595959"/>
<rect x="54.79" y="306" width="7.52" height="22" fill="#595959"/>
<rect x="71.51" y="312.05" width="7.52" height="15.95" fill="#595959"/>
<rect x="79.88" y="324.04" width="7.52" height="3.96" fill="#595959"/>
<rect x="88.24" y="319.2" width="7.52" height="8.8" fill="#595959"/>
<rect x="96.6" y="323.05" width="7.52" height="4.95" fill="#595959"/>
<rect x="113.32" y="325.69" width="7.52" height="2.31" fill="#595959"/>
<rect x="121.68" y="316.78" width="7.52" height="11.22" fill="#595959"/>
<rect x="130.04" y="327.12" width="7.52" height="0.88" fill="#595959"/>
<rect x="138.4" y="327.45" width="7.52" height="0.55" fill="#595959"/>
<rect x="146.76" y="326.68" width="7.52" height="1.32" fill="#595959"/>
<rect x="163.49" y="326.35" width="7.52" height="1.65" fill="#595959"/>
<rect x="180.21" y="315.24" width="7.52" height="12.76" fill="#595959"/>
<rect x="188.57" y="326.46" width="7.52" height="1.54" fill="#595959"/>
<rect x="196.93" y="308.2" width="7.52" height="19.8" fill="#595959"/>
<rect x="205.29" y="327.45" width="7.52" height="0.55" fill="#595959"/>
<rect x="213.65" y="316.01" width="7.52" height="11.99" fill="#595959"/>
<rect x="222.01" y="327.01" width="7.52" height="0.99" fill="#595959"/>
<rect x="230.37" y="327.01" width="7.52" height="0.99" fill="#595959"/>
<rect x="247.1" y="327.78" width="7.52" height="0.22" fill="#595959"/>
<rect x="255.46" y="326.13" width="7.52" height="1.87" fill="#595959"/>
<rect x="263.82" y="326.9" width="7.52" height="1.1" fill="#595959"/>
<rect x="272.18" y="325.8" width="7.52" height="2.2" fill="#595959"/>
<rect x="280.54" y="323.05" width="7.52" height="4.95" fill="#595959"/>
<rect x="288.9" y="325.03" width="7.52" height="2.97" fill="#595959"/>
<rect x="297.26" y="327.12" width="7.52" height="0.88" fill="#595959"/>
<rect x="305.62" y="326.68" width="7.52" height="1.32" fill="#595959"/>
<rect x="313.98" y="327.89" width="7.52" height="0.11" fill="#595959"/>
<rect x="322.34" y="327.78" width="7.52" height="0.22" fill="#595959"/>
<rect x="330.71" y="327.67" width="7.52" height="0.33" fill="#595959"/>
<rect x="339.07" y="327.67" width="7.52" height="0.33" fill="#595959"/>
<rect x="347.43" y="327.67" width="7.52" height="0.33" fill="#595959"/>
<rect x="355.79" y="317.55" width="7.52" height="10.45" fill="#595959"/>
<rect x="364.15" y="320.96" width="7.52" height="7.04" fill="#595959"/>
<rect x="372.51" y="326.9" width="7.52" height="1.1" fill="#595959"/>
<rect x="380.87" y="324.26" width="7.52" height="3.74" fill="#595959"/>
<rect x="389.23" y="324.04" width="7.52" height="3.96" fill="#595959"/>
<rect x="397.59" y="326.9" width="7.52" height="1.1" fill="#595959"/>
<rect x="405.95" y="326.68" width="7.52" height="1.32" fill="#595959"/>
<rect x="414.32" y="326.68" width="7.52" height="1.32" fill="#595959"/>
<rect x="422.68" y="327.67" width="7.52" height="0.33" fill="#595959"/>
<rect x="431.04" y="320.96" width="7.52" height="7.04" fill="#595959"/>
<rect x="447.76" y="327.67" width="7.52" height="0.33" fill="#595959"/>
<rect x="456.12" y="327.01" width="7.52" height="0.99" fill="#595959"/>
<rect x="464.48" y="327.67" width="7.52" height="0.33" fill="#595959"/>
<rect x="481.2" y="326.24" width="7.52" height="1.76" fill="#595959"/>
<rect x="489.56" y="327.67" width="7.52" height="0.33" fill="#595959"/>
<rect x="506.29" y="326.68" width="7.52" height="1.32" fill="#595959"/>
<rect x="514.65" y="325.91" width="7.52" height="2.09" fill="#595959"/>
<rect x="523.01" y="327.12" width="7.52" height="0.88" fill="#595959"/>
<rect x="531.37" y="324.92" width="7.52" height="3.08" fill="#595959"/>
<rect x="539.73" y="326.68" width="7.52" height="1.32" fill="#595959"/>
<rect x="548.09" y="327.12" width="7.52" height="0.88" fill="#595959"/>
<rect x="573.17" y="326.68" width="7.52" height="1.32" fill="#595959"/>
<rect x="581.54" y="326.68" width="7.52" height="1.32" fill="#595959"/>
<rect x="598.26" y="326.02" width="7.52" height="1.98" fill="#595959"/>
<text x="10.9" y="329.9" class="bsr" text-anchor="end" textLength="3.6" lengthAdjust="spacingAndGlyphs">0</text>
<text x="10.9" y="324.4" class="bsr" text-anchor="end" textLength="7.4" lengthAdjust="spacingAndGlyphs">50</text>
<text x="10.9" y="318.9" class="bsr" text-anchor="end" textLength="11.2" lengthAdjust="spacingAndGlyphs">100</text>
<text x="10.9" y="313.4" class="bsr" text-anchor="end" textLength="11.2" lengthAdjust="spacingAndGlyphs">150</text>
<text x="10.9" y="307.9" class="bsr" text-anchor="end" textLength="11.2" lengthAdjust="spacingAndGlyphs">200</text>
<line x1="16.75" x2="16.75" y1="329" y2="330.4" stroke="#9a9a9a" stroke-width="0.6"/>
<text transform="translate(18.55,331.3) rotate(-90)" class="bsl" text-anchor="end" textLength="32" lengthAdjust="spacingAndGlyphs">Col(BS512)_1</text>
<line x1="25.11" x2="25.11" y1="329" y2="330.4" stroke="#9a9a9a" stroke-width="0.6"/>
<text transform="translate(26.91,331.3) rotate(-90)" class="bsl" text-anchor="end" textLength="27.7" lengthAdjust="spacingAndGlyphs">Col(IRGK)_1</text>
<line x1="33.47" x2="33.47" y1="329" y2="330.4" stroke="#9a9a9a" stroke-width="0.6"/>
<text transform="translate(35.27,331.3) rotate(-90)" class="bsl" text-anchor="end" textLength="32.7" lengthAdjust="spacingAndGlyphs">Col(KPHS6)_1</text>
<line x1="41.83" x2="41.83" y1="329" y2="330.4" stroke="#9a9a9a" stroke-width="0.6"/>
<text transform="translate(43.63,331.3) rotate(-90)" class="bsl" text-anchor="end" textLength="33.1" lengthAdjust="spacingAndGlyphs">Col(MG828)_1</text>
<line x1="50.19" x2="50.19" y1="329" y2="330.4" stroke="#9a9a9a" stroke-width="0.6"/>
<text transform="translate(51.99,331.3) rotate(-90)" class="bsl" text-anchor="end" textLength="28.7" lengthAdjust="spacingAndGlyphs">Col(MP18)_1</text>
<line x1="58.56" x2="58.56" y1="329" y2="330.4" stroke="#9a9a9a" stroke-width="0.6"/>
<text transform="translate(60.36,331.3) rotate(-90)" class="bsl" text-anchor="end" textLength="36.2" lengthAdjust="spacingAndGlyphs">Col(pHAD28)_1</text>
<line x1="66.92" x2="66.92" y1="329" y2="330.4" stroke="#9a9a9a" stroke-width="0.6"/>
<text transform="translate(68.72,331.3) rotate(-90)" class="bsl" text-anchor="end" textLength="33.1" lengthAdjust="spacingAndGlyphs">Col(Ye4449)_1</text>
<line x1="75.28" x2="75.28" y1="329" y2="330.4" stroke="#9a9a9a" stroke-width="0.6"/>
<text transform="translate(77.08,331.3) rotate(-90)" class="bsl" text-anchor="end" textLength="20.3" lengthAdjust="spacingAndGlyphs">Col156_1</text>
<line x1="83.64" x2="83.64" y1="329" y2="330.4" stroke="#9a9a9a" stroke-width="0.6"/>
<text transform="translate(85.44,331.3) rotate(-90)" class="bsl" text-anchor="end" textLength="22.4" lengthAdjust="spacingAndGlyphs">Col440I_1</text>
<line x1="92" x2="92" y1="329" y2="330.4" stroke="#9a9a9a" stroke-width="0.6"/>
<text transform="translate(93.8,331.3) rotate(-90)" class="bsl" text-anchor="end" textLength="24.1" lengthAdjust="spacingAndGlyphs">Col440II_1</text>
<line x1="100.36" x2="100.36" y1="329" y2="330.4" stroke="#9a9a9a" stroke-width="0.6"/>
<text transform="translate(102.16,331.3) rotate(-90)" class="bsl" text-anchor="end" textLength="24.1" lengthAdjust="spacingAndGlyphs">Col8282_1</text>
<line x1="108.72" x2="108.72" y1="329" y2="330.4" stroke="#9a9a9a" stroke-width="0.6"/>
<text transform="translate(110.52,331.3) rotate(-90)" class="bsl" text-anchor="end" textLength="21.4" lengthAdjust="spacingAndGlyphs">ColKP3_1</text>
<line x1="117.08" x2="117.08" y1="329" y2="330.4" stroke="#9a9a9a" stroke-width="0.6"/>
<text transform="translate(118.88,331.3) rotate(-90)" class="bsl" text-anchor="end" textLength="23.5" lengthAdjust="spacingAndGlyphs">ColpVC_1</text>
<line x1="125.44" x2="125.44" y1="329" y2="330.4" stroke="#9a9a9a" stroke-width="0.6"/>
<text transform="translate(127.24,331.3) rotate(-90)" class="bsl" text-anchor="end" textLength="25.7" lengthAdjust="spacingAndGlyphs">ColRNAI_1</text>
<line x1="133.8" x2="133.8" y1="329" y2="330.4" stroke="#9a9a9a" stroke-width="0.6"/>
<text transform="translate(135.6,331.3) rotate(-90)" class="bsl" text-anchor="end" textLength="20.3" lengthAdjust="spacingAndGlyphs">FII(CE)_1</text>
<line x1="142.17" x2="142.17" y1="329" y2="330.4" stroke="#9a9a9a" stroke-width="0.6"/>
<text transform="translate(143.97,331.3) rotate(-90)" class="bsl" text-anchor="end" textLength="38.4" lengthAdjust="spacingAndGlyphs">FII(pBK30683)_1</text>
<line x1="150.53" x2="150.53" y1="329" y2="330.4" stroke="#9a9a9a" stroke-width="0.6"/>
<text transform="translate(152.33,331.3) rotate(-90)" class="bsl" text-anchor="end" textLength="15" lengthAdjust="spacingAndGlyphs">IncA_1</text>
<line x1="158.89" x2="158.89" y1="329" y2="330.4" stroke="#9a9a9a" stroke-width="0.6"/>
<text transform="translate(160.69,331.3) rotate(-90)" class="bsl" text-anchor="end" textLength="28.7" lengthAdjust="spacingAndGlyphs">IncB/O/K/Z_1</text>
<line x1="167.25" x2="167.25" y1="329" y2="330.4" stroke="#9a9a9a" stroke-width="0.6"/>
<text transform="translate(169.05,331.3) rotate(-90)" class="bsl" text-anchor="end" textLength="28.7" lengthAdjust="spacingAndGlyphs">IncB/O/K/Z_2</text>
<line x1="175.61" x2="175.61" y1="329" y2="330.4" stroke="#9a9a9a" stroke-width="0.6"/>
<text transform="translate(177.41,331.3) rotate(-90)" class="bsl" text-anchor="end" textLength="13.7" lengthAdjust="spacingAndGlyphs">IncC_1</text>
<line x1="183.97" x2="183.97" y1="329" y2="330.4" stroke="#9a9a9a" stroke-width="0.6"/>
<text transform="translate(185.77,331.3) rotate(-90)" class="bsl" text-anchor="end" textLength="19.2" lengthAdjust="spacingAndGlyphs">IncFIA_1</text>
<line x1="192.33" x2="192.33" y1="329" y2="330.4" stroke="#9a9a9a" stroke-width="0.6"/>
<text transform="translate(194.13,331.3) rotate(-90)" class="bsl" text-anchor="end" textLength="33.1" lengthAdjust="spacingAndGlyphs">IncFIA(HI1)_1</text>
<line x1="200.69" x2="200.69" y1="329" y2="330.4" stroke="#9a9a9a" stroke-width="0.6"/>
<text transform="translate(202.49,331.3) rotate(-90)" class="bsl" text-anchor="end" textLength="46.7" lengthAdjust="spacingAndGlyphs">IncFIB(AP001918)_1</text>
<line x1="209.05" x2="209.05" y1="329" y2="330.4" stroke="#9a9a9a" stroke-width="0.6"/>
<text transform="translate(210.85,331.3) rotate(-90)" class="bsl" text-anchor="end" textLength="66" lengthAdjust="spacingAndGlyphs">IncFIB(H89-PhagePlasmid)_1</text>
<line x1="217.41" x2="217.41" y1="329" y2="330.4" stroke="#9a9a9a" stroke-width="0.6"/>
<text transform="translate(219.21,331.3) rotate(-90)" class="bsl" text-anchor="end" textLength="27.7" lengthAdjust="spacingAndGlyphs">IncFIB(K)_1</text>
<line x1="225.78" x2="225.78" y1="329" y2="330.4" stroke="#9a9a9a" stroke-width="0.6"/>
<text transform="translate(227.58,331.3) rotate(-90)" class="bsl" text-anchor="end" textLength="66" lengthAdjust="spacingAndGlyphs">IncFIB(K)(pCAV1099-114)_1</text>
<line x1="234.14" x2="234.14" y1="329" y2="330.4" stroke="#9a9a9a" stroke-width="0.6"/>
<text transform="translate(235.94,331.3) rotate(-90)" class="bsl" text-anchor="end" textLength="39.4" lengthAdjust="spacingAndGlyphs">IncFIB(pB171)_1</text>
<line x1="242.5" x2="242.5" y1="329" y2="330.4" stroke="#9a9a9a" stroke-width="0.6"/>
<text transform="translate(244.3,331.3) rotate(-90)" class="bsl" text-anchor="end" textLength="40.5" lengthAdjust="spacingAndGlyphs">IncFIB(pECLA)_1</text>
<line x1="250.86" x2="250.86" y1="329" y2="330.4" stroke="#9a9a9a" stroke-width="0.6"/>
<text transform="translate(252.66,331.3) rotate(-90)" class="bsl" text-anchor="end" textLength="41.6" lengthAdjust="spacingAndGlyphs">IncFIB(pHCM2)_1</text>
<line x1="259.22" x2="259.22" y1="329" y2="330.4" stroke="#9a9a9a" stroke-width="0.6"/>
<text transform="translate(261.02,331.3) rotate(-90)" class="bsl" text-anchor="end" textLength="43.7" lengthAdjust="spacingAndGlyphs">IncFIB(pKPHS1)_1</text>
<line x1="267.58" x2="267.58" y1="329" y2="330.4" stroke="#9a9a9a" stroke-width="0.6"/>
<text transform="translate(269.38,331.3) rotate(-90)" class="bsl" text-anchor="end" textLength="50.1" lengthAdjust="spacingAndGlyphs">IncFIB(pNDM-Mar)_1</text>
<line x1="275.94" x2="275.94" y1="329" y2="330.4" stroke="#9a9a9a" stroke-width="0.6"/>
<text transform="translate(277.74,331.3) rotate(-90)" class="bsl" text-anchor="end" textLength="33.1" lengthAdjust="spacingAndGlyphs">IncFIB(pQil)_1</text>
<line x1="284.3" x2="284.3" y1="329" y2="330.4" stroke="#9a9a9a" stroke-width="0.6"/>
<text transform="translate(286.1,331.3) rotate(-90)" class="bsl" text-anchor="end" textLength="30.9" lengthAdjust="spacingAndGlyphs">IncFIC(FII)_1</text>
<line x1="292.66" x2="292.66" y1="329" y2="330.4" stroke="#9a9a9a" stroke-width="0.6"/>
<text transform="translate(294.46,331.3) rotate(-90)" class="bsl" text-anchor="end" textLength="21.4" lengthAdjust="spacingAndGlyphs">IncFII_1</text>
<line x1="301.02" x2="301.02" y1="329" y2="330.4" stroke="#9a9a9a" stroke-width="0.6"/>
<text transform="translate(302.82,331.3) rotate(-90)" class="bsl" text-anchor="end" textLength="27.7" lengthAdjust="spacingAndGlyphs">IncFII(29)_1</text>
<line x1="309.39" x2="309.39" y1="329" y2="330.4" stroke="#9a9a9a" stroke-width="0.6"/>
<text transform="translate(311.19,331.3) rotate(-90)" class="bsl" text-anchor="end" textLength="67.1" lengthAdjust="spacingAndGlyphs">IncFII(pAMA1167-NDM-5)_1</text>
<line x1="317.75" x2="317.75" y1="329" y2="330.4" stroke="#9a9a9a" stroke-width="0.6"/>
<text transform="translate(319.55,331.3) rotate(-90)" class="bsl" text-anchor="end" textLength="34.1" lengthAdjust="spacingAndGlyphs">IncFII(pCoo)_1</text>
<line x1="326.11" x2="326.11" y1="329" y2="330.4" stroke="#9a9a9a" stroke-width="0.6"/>
<text transform="translate(327.91,331.3) rotate(-90)" class="bsl" text-anchor="end" textLength="35.2" lengthAdjust="spacingAndGlyphs">IncFII(pCRY)_1</text>
<line x1="334.47" x2="334.47" y1="329" y2="330.4" stroke="#9a9a9a" stroke-width="0.6"/>
<text transform="translate(336.27,331.3) rotate(-90)" class="bsl" text-anchor="end" textLength="38.4" lengthAdjust="spacingAndGlyphs">IncFII(pECLA)_1</text>
<line x1="342.83" x2="342.83" y1="329" y2="330.4" stroke="#9a9a9a" stroke-width="0.6"/>
<text transform="translate(344.63,331.3) rotate(-90)" class="bsl" text-anchor="end" textLength="38.4" lengthAdjust="spacingAndGlyphs">IncFII(pEH01)_1</text>
<line x1="351.19" x2="351.19" y1="329" y2="330.4" stroke="#9a9a9a" stroke-width="0.6"/>
<text transform="translate(352.99,331.3) rotate(-90)" class="bsl" text-anchor="end" textLength="42.7" lengthAdjust="spacingAndGlyphs">IncFII(pHN7A8)_1</text>
<line x1="359.55" x2="359.55" y1="329" y2="330.4" stroke="#9a9a9a" stroke-width="0.6"/>
<text transform="translate(361.35,331.3) rotate(-90)" class="bsl" text-anchor="end" textLength="37.3" lengthAdjust="spacingAndGlyphs">IncFII(pKP91)_1</text>
<line x1="367.91" x2="367.91" y1="329" y2="330.4" stroke="#9a9a9a" stroke-width="0.6"/>
<text transform="translate(369.71,331.3) rotate(-90)" class="bsl" text-anchor="end" textLength="43.7" lengthAdjust="spacingAndGlyphs">IncFII(pRSB107)_1</text>
<line x1="376.27" x2="376.27" y1="329" y2="330.4" stroke="#9a9a9a" stroke-width="0.6"/>
<text transform="translate(378.07,331.3) rotate(-90)" class="bsl" text-anchor="end" textLength="28.7" lengthAdjust="spacingAndGlyphs">IncFII(Yp)_1</text>
<line x1="384.63" x2="384.63" y1="329" y2="330.4" stroke="#9a9a9a" stroke-width="0.6"/>
<text transform="translate(386.43,331.3) rotate(-90)" class="bsl" text-anchor="end" textLength="51.1" lengthAdjust="spacingAndGlyphs">IncHI1A(NDM-CIT)_1</text>
<line x1="393" x2="393" y1="329" y2="330.4" stroke="#9a9a9a" stroke-width="0.6"/>
<text transform="translate(394.8,331.3) rotate(-90)" class="bsl" text-anchor="end" textLength="54.3" lengthAdjust="spacingAndGlyphs">IncHI1B(pNDM-CIT)_1</text>
<line x1="401.36" x2="401.36" y1="329" y2="330.4" stroke="#9a9a9a" stroke-width="0.6"/>
<text transform="translate(403.16,331.3) rotate(-90)" class="bsl" text-anchor="end" textLength="56.5" lengthAdjust="spacingAndGlyphs">IncHI1B(pNDM-MAR)_1</text>
<line x1="409.72" x2="409.72" y1="329" y2="330.4" stroke="#9a9a9a" stroke-width="0.6"/>
<text transform="translate(411.52,331.3) rotate(-90)" class="bsl" text-anchor="end" textLength="18.2" lengthAdjust="spacingAndGlyphs">IncHI2_1</text>
<line x1="418.08" x2="418.08" y1="329" y2="330.4" stroke="#9a9a9a" stroke-width="0.6"/>
<text transform="translate(419.88,331.3) rotate(-90)" class="bsl" text-anchor="end" textLength="23.5" lengthAdjust="spacingAndGlyphs">IncHI2A_1</text>
<line x1="426.44" x2="426.44" y1="329" y2="330.4" stroke="#9a9a9a" stroke-width="0.6"/>
<text transform="translate(428.24,331.3) rotate(-90)" class="bsl" text-anchor="end" textLength="34.1" lengthAdjust="spacingAndGlyphs">IncI(Gamma)_1</text>
<line x1="434.8" x2="434.8" y1="329" y2="330.4" stroke="#9a9a9a" stroke-width="0.6"/>
<text transform="translate(436.6,331.3) rotate(-90)" class="bsl" text-anchor="end" textLength="41.6" lengthAdjust="spacingAndGlyphs">IncI1-I(Gamma)_1</text>
<line x1="443.16" x2="443.16" y1="329" y2="330.4" stroke="#9a9a9a" stroke-width="0.6"/>
<text transform="translate(444.96,331.3) rotate(-90)" class="bsl" text-anchor="end" textLength="16" lengthAdjust="spacingAndGlyphs">IncI2_1</text>
<line x1="451.52" x2="451.52" y1="329" y2="330.4" stroke="#9a9a9a" stroke-width="0.6"/>
<text transform="translate(453.32,331.3) rotate(-90)" class="bsl" text-anchor="end" textLength="32" lengthAdjust="spacingAndGlyphs">IncI2(Delta)_1</text>
<line x1="459.88" x2="459.88" y1="329" y2="330.4" stroke="#9a9a9a" stroke-width="0.6"/>
<text transform="translate(461.68,331.3) rotate(-90)" class="bsl" text-anchor="end" textLength="13.9" lengthAdjust="spacingAndGlyphs">IncL_1</text>
<line x1="468.24" x2="468.24" y1="329" y2="330.4" stroke="#9a9a9a" stroke-width="0.6"/>
<text transform="translate(470.04,331.3) rotate(-90)" class="bsl" text-anchor="end" textLength="18.2" lengthAdjust="spacingAndGlyphs">IncM1_1</text>
<line x1="476.61" x2="476.61" y1="329" y2="330.4" stroke="#9a9a9a" stroke-width="0.6"/>
<text transform="translate(478.41,331.3) rotate(-90)" class="bsl" text-anchor="end" textLength="18.2" lengthAdjust="spacingAndGlyphs">IncM2_1</text>
<line x1="484.97" x2="484.97" y1="329" y2="330.4" stroke="#9a9a9a" stroke-width="0.6"/>
<text transform="translate(486.77,331.3) rotate(-90)" class="bsl" text-anchor="end" textLength="15" lengthAdjust="spacingAndGlyphs">IncN_1</text>
<line x1="493.33" x2="493.33" y1="329" y2="330.4" stroke="#9a9a9a" stroke-width="0.6"/>
<text transform="translate(495.13,331.3) rotate(-90)" class="bsl" text-anchor="end" textLength="17.1" lengthAdjust="spacingAndGlyphs">IncP1_3</text>
<line x1="501.69" x2="501.69" y1="329" y2="330.4" stroke="#9a9a9a" stroke-width="0.6"/>
<text transform="translate(503.49,331.3) rotate(-90)" class="bsl" text-anchor="end" textLength="17.1" lengthAdjust="spacingAndGlyphs">IncQ2_1</text>
<line x1="510.05" x2="510.05" y1="329" y2="330.4" stroke="#9a9a9a" stroke-width="0.6"/>
<text transform="translate(511.85,331.3) rotate(-90)" class="bsl" text-anchor="end" textLength="13.9" lengthAdjust="spacingAndGlyphs">IncR_1</text>
<line x1="518.41" x2="518.41" y1="329" y2="330.4" stroke="#9a9a9a" stroke-width="0.6"/>
<text transform="translate(520.21,331.3) rotate(-90)" class="bsl" text-anchor="end" textLength="17.1" lengthAdjust="spacingAndGlyphs">IncX1_1</text>
<line x1="526.77" x2="526.77" y1="329" y2="330.4" stroke="#9a9a9a" stroke-width="0.6"/>
<text transform="translate(528.57,331.3) rotate(-90)" class="bsl" text-anchor="end" textLength="17.1" lengthAdjust="spacingAndGlyphs">IncX1_4</text>
<line x1="535.13" x2="535.13" y1="329" y2="330.4" stroke="#9a9a9a" stroke-width="0.6"/>
<text transform="translate(536.93,331.3) rotate(-90)" class="bsl" text-anchor="end" textLength="17.3" lengthAdjust="spacingAndGlyphs">IncX3_1</text>
<line x1="543.49" x2="543.49" y1="329" y2="330.4" stroke="#9a9a9a" stroke-width="0.6"/>
<text transform="translate(545.29,331.3) rotate(-90)" class="bsl" text-anchor="end" textLength="17.3" lengthAdjust="spacingAndGlyphs">IncX4_1</text>
<line x1="551.85" x2="551.85" y1="329" y2="330.4" stroke="#9a9a9a" stroke-width="0.6"/>
<text transform="translate(553.65,331.3) rotate(-90)" class="bsl" text-anchor="end" textLength="17.3" lengthAdjust="spacingAndGlyphs">IncX4_2</text>
<line x1="560.22" x2="560.22" y1="329" y2="330.4" stroke="#9a9a9a" stroke-width="0.6"/>
<text transform="translate(562.01,331.3) rotate(-90)" class="bsl" text-anchor="end" textLength="17.3" lengthAdjust="spacingAndGlyphs">IncX5_2</text>
<line x1="568.58" x2="568.58" y1="329" y2="330.4" stroke="#9a9a9a" stroke-width="0.6"/>
<text transform="translate(570.38,331.3) rotate(-90)" class="bsl" text-anchor="end" textLength="17.3" lengthAdjust="spacingAndGlyphs">IncX9_1</text>
<line x1="576.94" x2="576.94" y1="329" y2="330.4" stroke="#9a9a9a" stroke-width="0.6"/>
<text transform="translate(578.74,331.3) rotate(-90)" class="bsl" text-anchor="end" textLength="15.2" lengthAdjust="spacingAndGlyphs">IncY_1</text>
<line x1="585.3" x2="585.3" y1="329" y2="330.4" stroke="#9a9a9a" stroke-width="0.6"/>
<text transform="translate(587.1,331.3) rotate(-90)" class="bsl" text-anchor="end" textLength="16.3" lengthAdjust="spacingAndGlyphs">p0111_1</text>
<line x1="593.66" x2="593.66" y1="329" y2="330.4" stroke="#9a9a9a" stroke-width="0.6"/>
<text transform="translate(595.46,331.3) rotate(-90)" class="bsl" text-anchor="end" textLength="29.1" lengthAdjust="spacingAndGlyphs">pENTAS02_1</text>
<line x1="602.02" x2="602.02" y1="329" y2="330.4" stroke="#9a9a9a" stroke-width="0.6"/>
<text transform="translate(603.82,331.3) rotate(-90)" class="bsl" text-anchor="end" textLength="41" lengthAdjust="spacingAndGlyphs">pKPC-CAV1321_1</text>
<line x1="610.38" x2="610.38" y1="329" y2="330.4" stroke="#9a9a9a" stroke-width="0.6"/>
<text transform="translate(612.18,331.3) rotate(-90)" class="bsl" text-anchor="end" textLength="21.6" lengthAdjust="spacingAndGlyphs">pSL483_1</text>
<line x1="618.74" x2="618.74" y1="329" y2="330.4" stroke="#9a9a9a" stroke-width="0.6"/>
<text transform="translate(620.54,331.3) rotate(-90)" class="bsl" text-anchor="end" textLength="48.5" lengthAdjust="spacingAndGlyphs">rep11a_1_repA(pKH2)</text>
<line x1="627.1" x2="627.1" y1="329" y2="330.4" stroke="#9a9a9a" stroke-width="0.6"/>
<text transform="translate(628.9,331.3) rotate(-90)" class="bsl" text-anchor="end" textLength="54.9" lengthAdjust="spacingAndGlyphs">rep17_1_CDS28(pAUM)</text>
<line x1="635.46" x2="635.46" y1="329" y2="330.4" stroke="#9a9a9a" stroke-width="0.6"/>
<text transform="translate(637.26,331.3) rotate(-90)" class="bsl" text-anchor="end" textLength="48.5" lengthAdjust="spacingAndGlyphs">rep18a_1_repA(pA3008)</text>
<line x1="643.83" x2="643.83" y1="329" y2="330.4" stroke="#9a9a9a" stroke-width="0.6"/>
<text transform="translate(645.62,331.3) rotate(-90)" class="bsl" text-anchor="end" textLength="72.1" lengthAdjust="spacingAndGlyphs">rep18b_1_BCO2331710(pErTg15)</text>
<line x1="652.19" x2="652.19" y1="329" y2="330.4" stroke="#9a9a9a" stroke-width="0.6"/>
<text transform="translate(653.99,331.3) rotate(-90)" class="bsl" text-anchor="end" textLength="45.3" lengthAdjust="spacingAndGlyphs">rep2_1_orf1(pBE25)</text>
<line x1="660.55" x2="660.55" y1="329" y2="330.4" stroke="#9a9a9a" stroke-width="0.6"/>
<text transform="translate(662.35,331.3) rotate(-90)" class="bsl" text-anchor="end" textLength="34.5" lengthAdjust="spacingAndGlyphs">repA(p447)_1</text>
<line x1="668.91" x2="668.91" y1="329" y2="330.4" stroke="#9a9a9a" stroke-width="0.6"/>
<text transform="translate(670.71,331.3) rotate(-90)" class="bsl" text-anchor="end" textLength="67.8" lengthAdjust="spacingAndGlyphs">repUS15_2_repA(pNBS225Ap1)</text>
<text x="321" y="413.9" class="tt" text-anchor="middle">Mobile elements</text>
<text x="-0.3" y="298.5" class="tagB">B</text>
</svg>
</body></html>
